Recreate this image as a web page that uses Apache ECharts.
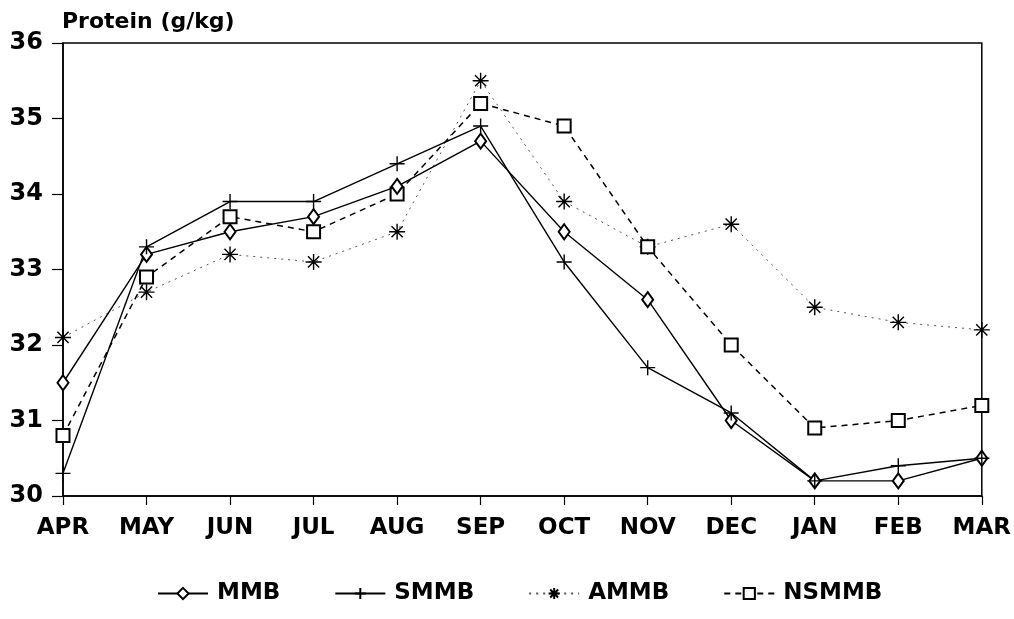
<!DOCTYPE html>
<html>
<head>
<meta charset="utf-8">
<script src="https://cdn.jsdelivr.net/npm/echarts@6/dist/echarts.min.js"></script>
<style>html,body{margin:0;padding:0;background:#fff;}#c{width:1014px;height:619px;}</style>
</head>
<body>
<div id="c"></div>
<script>
const months = ['APR','MAY','JUN','JUL','AUG','SEP','OCT','NOV','DEC','JAN','FEB','MAR'];
const MMB   = [31.5, 33.2, 33.5, 33.7, 34.1, 34.7, 33.5, 32.6, 31.0, 30.2, 30.2, 30.5];
const SMMB  = [30.3, 33.3, 33.9, 33.9, 34.4, 34.9, 33.1, 31.7, 31.1, 30.2, 30.4, 30.5];
const AMMB  = [32.1, 32.7, 33.2, 33.1, 33.5, 35.5, 33.9, 33.3, 33.6, 32.5, 32.3, 32.2];
const NSMMB = [30.8, 32.9, 33.7, 33.5, 34.0, 35.2, 34.9, 33.3, 32.0, 30.9, 31.0, 31.2];
const yTicks = [30, 31, 32, 33, 34, 35, 36];
const yTitle = 'Protein (g/kg)';

const FONT = 'DejaVu Sans';
const crossPath = 'path://M0,10L20,10M10,0L10,20';
const starPath = 'path://M10,0L10,20M0,10L20,10M3,3L17,17M17,3L3,17';

const chart = echarts.init(document.getElementById('c'), null, {renderer: 'canvas'});
chart.setOption({
  animation: false,
  backgroundColor: '#fff',
  title: {
    text: yTitle, left: 57, top: 6,
    textStyle: {fontFamily: FONT, fontSize: 22, fontWeight: 'bold', color: '#000'}
  },
  grid: {
    left: 63, right: 32, top: 43, bottom: 123,
    show: true, borderColor: '#000', borderWidth: 1.5, backgroundColor: 'transparent'
  },
  legend: {
    left: 152, top: 577,
    itemWidth: 50, itemHeight: 14, itemGap: 54,
    textStyle: {fontFamily: FONT, fontSize: 23, fontWeight: 'bold', color: '#000', padding: [0, 0, 0, 4]},
    data: ['MMB', 'SMMB', 'AMMB', 'NSMMB']
  },
  xAxis: {
    type: 'category', data: months, boundaryGap: false,
    axisLine: {lineStyle: {color: '#000', width: 1.5}},
    axisTick: {show: true, inside: false, length: 9, alignWithLabel: true, lineStyle: {color: '#000', width: 1.2}},
    axisLabel: {fontFamily: FONT, fontSize: 23, fontWeight: 'bold', color: '#000', margin: 21},
    splitLine: {show: false}
  },
  yAxis: {
    type: 'value', min: yTicks[0], max: yTicks[yTicks.length - 1], interval: 1,
    axisLine: {show: true, lineStyle: {color: '#000', width: 1.5}},
    axisTick: {show: true, inside: false, length: 11, lineStyle: {color: '#000', width: 1.2}},
    axisLabel: {fontFamily: FONT, fontSize: 24, fontWeight: 'bold', color: '#000', margin: 20},
    splitLine: {show: false}
  },
  series: [
    {
      name: 'MMB', type: 'line', data: MMB,
      symbol: 'emptyDiamond', symbolSize: [11, 15], showAllSymbol: true,
      lineStyle: {color: '#000', width: 1.4, type: 'solid'},
      itemStyle: {color: '#000', borderColor: '#000', borderWidth: 1},
      z: 3
    },
    {
      name: 'SMMB', type: 'line', data: SMMB,
      symbol: crossPath, symbolSize: [15, 15], showAllSymbol: true,
      lineStyle: {color: '#000', width: 1.4, type: 'solid'},
      itemStyle: {color: '#000', borderColor: '#000', borderWidth: 1.4},
      z: 3
    },
    {
      name: 'AMMB', type: 'line', data: AMMB,
      symbol: starPath, symbolSize: [16, 16], showAllSymbol: true,
      lineStyle: {color: '#555', width: 1, type: [2, 5]},
      itemStyle: {color: '#000', borderColor: '#000', borderWidth: 1.4},
      z: 2
    },
    {
      name: 'NSMMB', type: 'line', data: NSMMB,
      symbol: 'emptyRect', symbolSize: [13, 13], showAllSymbol: true,
      lineStyle: {color: '#000', width: 1.5, type: [6, 5]},
      itemStyle: {color: '#000', borderColor: '#000', borderWidth: 1.1},
      z: 2
    }
  ]
});
</script>
</body>
</html>
